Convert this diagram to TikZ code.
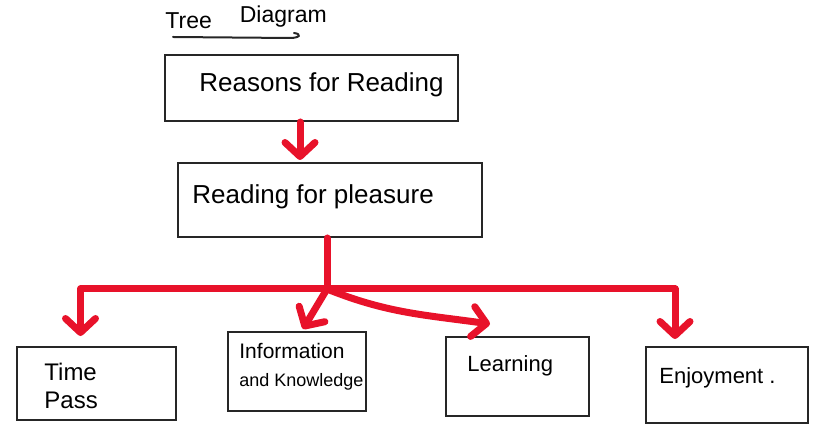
\documentclass[tikz,border=0pt]{standalone}
\usepackage{fontspec}
\setmainfont{Liberation Sans}
\usetikzlibrary{arrows.meta}
\definecolor{penred}{RGB}{232,18,42}
\tikzset{
  box/.style={draw=black!85,line width=1pt,rectangle,inner sep=0pt},
  hand/.style={inner sep=0pt,align=left,anchor=west,text=black},
  wire/.style={penred,line width=3.5pt,line cap=round,line join=round,
    -{Straight Barb[length=7pt,width=15pt,line cap=round,line join=round]}}
}
\begin{document}
\begin{tikzpicture}[x=0.5pt,y=-0.5pt]
      \useasboundingbox (0,0) rectangle (820,448);
      \node[hand,font=\fontsize{11.5}{13}\selectfont] (title) at (165,17)
        {Tree\hspace{14pt}\raisebox{3pt}{Diagram}};
      \draw[black!85,line width=1pt,line cap=round]
        (173,37) -- (290,38) .. controls (300,38) and (302,34) .. (294,33);
      \node[box,minimum width=146.5pt,minimum height=33pt,
        label={[hand,font=\fontsize{13}{15}\selectfont,xshift=17.5pt,yshift=1.5pt]west:Reasons for Reading}]
        (reasons) at (311.5,88) {};
      \node[box,minimum width=152pt,minimum height=37pt,
        label={[hand,font=\fontsize{13}{15}\selectfont,xshift=7.5pt,yshift=1.5pt]west:Reading for pleasure}]
        (pleasure) at (330,200) {};
      \node[box,minimum width=79.5pt,minimum height=36.5pt,
        label={[hand,font=\fontsize{12}{14}\selectfont,xshift=14pt,yshift=-1pt]west:Time\\Pass}]
        (timepass) at (96.5,383.5) {};
      \node[box,minimum width=69pt,minimum height=39.5pt,
        label={[hand,font=\fontsize{10.5}{14}\selectfont,xshift=6pt,yshift=2.5pt]west:Information\\{\fontsize{9}{14}\selectfont and Knowledge}}]
        (info) at (297,371.5) {};
      \node[box,minimum width=71.5pt,minimum height=39.5pt,
        label={[hand,font=\fontsize{11}{13}\selectfont,xshift=11pt,yshift=5.5pt]west:Learning}]
        (learning) at (517.5,376.5) {};
      \node[box,minimum width=81pt,minimum height=38pt,
        label={[hand,font=\fontsize{11}{13}\selectfont,xshift=7pt,yshift=3.5pt]west:Enjoyment .}]
        (enjoy) at (727,385) {};
      \coordinate (hub) at (327,289);
      \begin{scope}[wire]
        \draw ([xshift=-5.75pt]reasons.south) to ([xshift=-15pt,yshift=1pt]pleasure.north);
        \draw[-] ([xshift=-1.5pt]pleasure.south) to (hub);
        \draw (hub) -| ([xshift=-8pt,yshift=5pt]timepass.north);
        \draw (hub) to ([xshift=3pt,yshift=1pt]info.north);
        \draw (hub) to[out=-22,in=172] ([xshift=-13.75pt,yshift=6pt]learning.north);
        \draw (hub) -| ([xshift=-26pt,yshift=3.5pt]enjoy.north);
      \end{scope}
    \end{tikzpicture}
\end{document}
